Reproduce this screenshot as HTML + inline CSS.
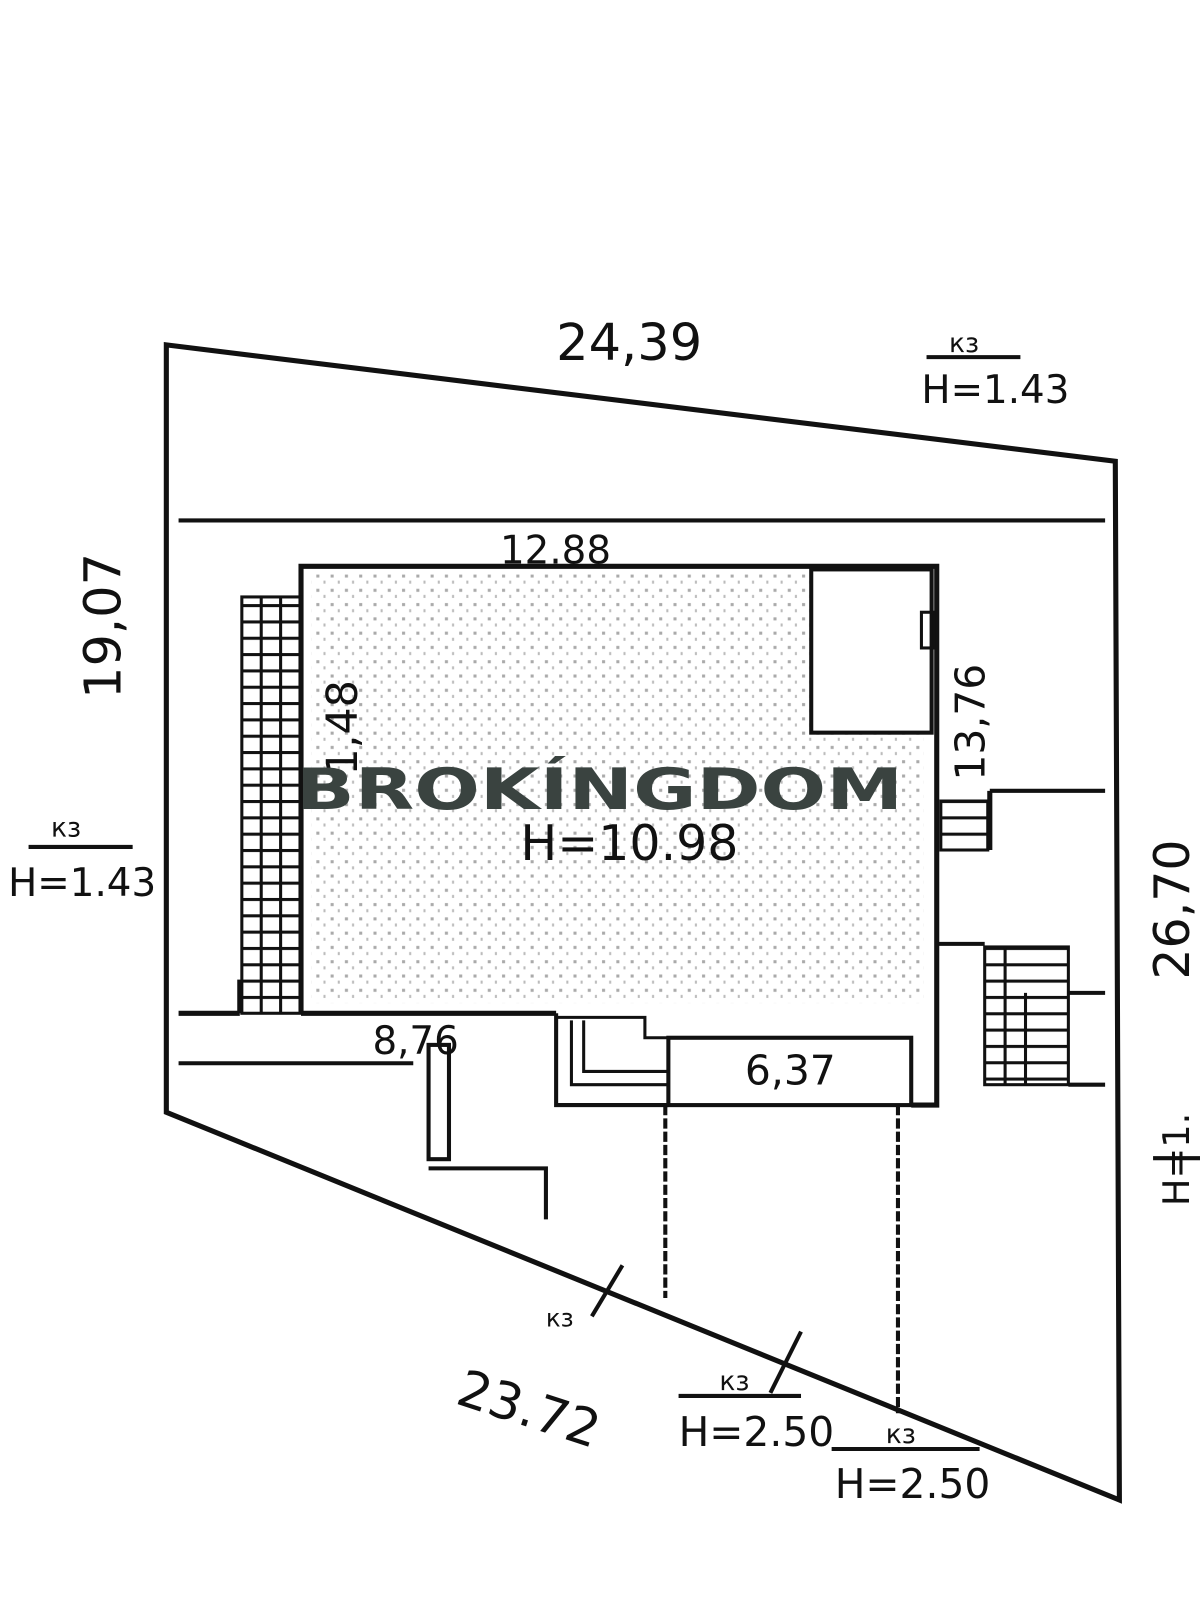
<!DOCTYPE html>
<html><head><meta charset="utf-8"><style>
html,body{margin:0;padding:0;background:#fff;}
svg{display:block;}
text{font-family:"DejaVu Sans","Liberation Sans",sans-serif;fill:#111;}
</style></head><body>
<svg width="1200" height="1600" viewBox="0 0 1176 1568" preserveAspectRatio="none" xmlns="http://www.w3.org/2000/svg">
<defs>
<pattern id="dots" width="14" height="14" patternUnits="userSpaceOnUse">
<rect x="2" y="3" width="3" height="3" fill="#555"/><rect x="9" y="9" width="2" height="3" fill="#777"/>
</pattern>
<pattern id="rungs" width="10" height="16" patternUnits="userSpaceOnUse">
<rect x="0" y="0" width="10" height="3" fill="#111"/>
</pattern>
</defs>
<rect width="1176" height="1568" fill="#fff"/>
<g stroke="#111" fill="none" stroke-width="5">
<polygon points="163,338 1093,452 1097,1470 163,1090"/>
<line x1="175" y1="510" x2="1083" y2="510" stroke-width="4"/>
<rect x="305" y="563" width="600" height="420" fill="url(#dots)" stroke="none" opacity="0.5"/>
<polyline points="295,993 295,555 918,555 918,1083 893,1083"/>
<line x1="295" y1="993" x2="545" y2="993"/>
<rect x="655" y="1017" width="238" height="66" stroke-width="4"/>
<polyline points="545,993 545,1083 655,1083" stroke-width="4"/>
<polyline points="545,997 632,997 632,1017 655,1017" stroke-width="3"/>
<polyline points="560,1000 560,1063 655,1063" stroke-width="3"/>
<polyline points="572,1000 572,1050 655,1050" stroke-width="3"/>
<rect x="795" y="558" width="118" height="160" stroke-width="4" fill="#fff"/>
<rect x="903" y="600" width="12" height="35" stroke-width="3"/>
<rect x="237" y="585" width="58" height="408" stroke="none" fill="url(#rungs)"/>
<rect x="237" y="585" width="58" height="408" stroke-width="3"/>
<line x1="256" y1="585" x2="256" y2="993" stroke-width="3"/>
<line x1="275" y1="585" x2="275" y2="993" stroke-width="3"/>
<line x1="235" y1="960" x2="235" y2="993"/>
<line x1="175" y1="993" x2="235" y2="993"/>
<line x1="175" y1="1042" x2="405" y2="1042" stroke-width="4"/>
<rect x="922" y="785" width="46" height="48" stroke="none" fill="url(#rungs)"/>
<rect x="922" y="785" width="46" height="48" stroke-width="3"/>
<line x1="970" y1="775" x2="970" y2="833"/>
<line x1="970" y1="775" x2="1083" y2="775" stroke-width="4"/>
<line x1="920" y1="925" x2="965" y2="925" stroke-width="4"/>
<rect x="965" y="928" width="82" height="135" stroke="none" fill="url(#rungs)"/>
<rect x="965" y="928" width="82" height="135" stroke-width="3"/>
<line x1="985" y1="928" x2="985" y2="1063" stroke-width="3"/>
<line x1="1005" y1="973" x2="1005" y2="1063" stroke-width="3"/>
<line x1="1047" y1="973" x2="1083" y2="973" stroke-width="4"/>
<line x1="1047" y1="1063" x2="1083" y2="1063" stroke-width="4"/>
<rect x="420" y="1024" width="20" height="112" stroke-width="4"/>
<polyline points="420,1145 535,1145 535,1195" stroke-width="4"/>
<line x1="652" y1="1083" x2="652" y2="1272" stroke-width="4" stroke-dasharray="10,3"/>
<line x1="880" y1="1083" x2="880" y2="1385" stroke-width="4" stroke-dasharray="10,3"/>
<line x1="580" y1="1290" x2="610" y2="1240" stroke-width="4"/>
<line x1="755" y1="1365" x2="785" y2="1305" stroke-width="4"/>
<line x1="908" y1="350" x2="1000" y2="350" stroke-width="4"/>
<line x1="28" y1="830" x2="130" y2="830" stroke-width="4"/>
<line x1="665" y1="1368" x2="785" y2="1368" stroke-width="4"/>
<line x1="815" y1="1420" x2="960" y2="1420" stroke-width="4"/>
<line x1="1130" y1="1135" x2="1176" y2="1135" stroke-width="4"/>
</g>
<g>
<text x="545" y="353" font-size="50">24,39</text>
<text x="930" y="345" font-size="26">кз</text>
<text x="903" y="395" font-size="38">Н=1.43</text>
<text x="490" y="552" font-size="38">12.88</text>
<text x="118" y="685" font-size="50" transform="rotate(-90 118 685)">19,07</text>
<text x="350" y="760" font-size="42" transform="rotate(-90 350 760)">1,48</text>
<text x="965" y="765" font-size="40" transform="rotate(-90 965 765)">13,76</text>
<text x="1165" y="960" font-size="48" transform="rotate(-90 1165 960)">26,70</text>
<text x="510" y="843" font-size="48">Н=10.98</text>
<text x="290" y="793" font-size="56" font-weight="bold" style="fill:#3a4340" textLength="595" lengthAdjust="spacingAndGlyphs">BROKÍNGDOM</text>
<text x="50" y="820" font-size="26">кз</text>
<text x="8" y="878" font-size="38">Н=1.43</text>
<text x="365" y="1033" font-size="38">8,76</text>
<text x="730" y="1063" font-size="40">6,37</text>
<text x="535" y="1300" font-size="24">кз</text>
<text x="705" y="1362" font-size="26">кз</text>
<text x="665" y="1417" font-size="40">Н=2.50</text>
<text x="868" y="1414" font-size="26">кз</text>
<text x="818" y="1468" font-size="40">Н=2.50</text>
<text x="1165" y="1182" font-size="36" transform="rotate(-90 1165 1182)">Н=1.</text>
<text x="445" y="1375" font-size="50" transform="rotate(18 445 1375)">23.72</text>
</g>
</svg>
</body></html>
